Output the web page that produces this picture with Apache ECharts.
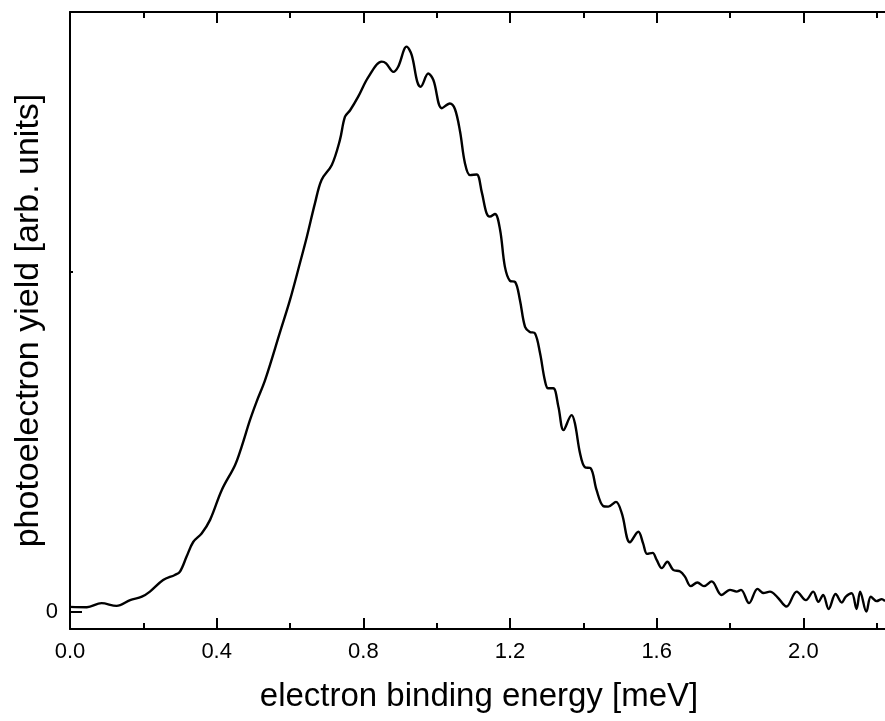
<!DOCTYPE html>
<html>
<head>
<meta charset="utf-8">
<script src="https://cdn.jsdelivr.net/npm/echarts@6/dist/echarts.min.js"></script>
<style>
  html, body { margin: 0; padding: 0; background: #fff; }
  #chart { width: 885px; height: 721px; }
</style>
</head>
<body>
<div id="chart"></div>
<script>
// electron binding energy [meV]
var energy = [
  0.000, 0.046, 0.086, 0.127, 0.164, 0.196, 0.218, 0.254, 0.286, 0.300,
  0.318, 0.336, 0.359, 0.382, 0.414, 0.450, 0.468, 0.491, 0.509, 0.532,
  0.573, 0.600, 0.627, 0.646, 0.668, 0.686, 0.714, 0.736, 0.750, 0.764,
  0.786, 0.814, 0.850, 0.862, 0.882, 0.895, 0.918, 0.932, 0.947, 0.956,
  0.977, 0.991, 1.014, 1.036, 1.050, 1.064, 1.077, 1.091, 1.109, 1.123,
  1.136, 1.145, 1.159, 1.173, 1.186, 1.200, 1.214, 1.227, 1.241, 1.254,
  1.268, 1.282, 1.295, 1.304, 1.318, 1.332, 1.346, 1.368, 1.377, 1.391,
  1.404, 1.420, 1.436, 1.454, 1.468, 1.489, 1.505, 1.527, 1.550, 1.563,
  1.574, 1.589, 1.600, 1.614, 1.629, 1.645, 1.664, 1.677, 1.693, 1.711,
  1.729, 1.750, 1.777, 1.800, 1.818, 1.830, 1.852, 1.875, 1.891, 1.909,
  1.929, 1.954, 1.982, 2.007, 2.027, 2.041, 2.054, 2.069, 2.088, 2.105,
  2.116, 2.132, 2.145, 2.155, 2.172, 2.184, 2.200, 2.214, 2.223
];
// photoelectron yield [arb. units]
var yieldVals = [
  0.015, 0.014, 0.026, 0.018, 0.035, 0.045, 0.060, 0.094, 0.109, 0.119,
  0.163, 0.206, 0.231, 0.271, 0.359, 0.432, 0.486, 0.565, 0.619, 0.682,
  0.824, 0.918, 1.026, 1.104, 1.202, 1.271, 1.315, 1.388, 1.457, 1.476,
  1.516, 1.574, 1.619, 1.614, 1.589, 1.604, 1.663, 1.638, 1.560, 1.545,
  1.584, 1.565, 1.482, 1.496, 1.479, 1.412, 1.321, 1.285, 1.287, 1.235,
  1.173, 1.163, 1.171, 1.124, 1.016, 0.974, 0.971, 0.918, 0.839, 0.824,
  0.820, 0.761, 0.682, 0.658, 0.658, 0.604, 0.535, 0.579, 0.555, 0.467,
  0.426, 0.423, 0.359, 0.312, 0.310, 0.324, 0.290, 0.205, 0.236, 0.202,
  0.171, 0.174, 0.153, 0.129, 0.148, 0.124, 0.119, 0.104, 0.076, 0.087,
  0.076, 0.090, 0.050, 0.065, 0.060, 0.065, 0.026, 0.068, 0.056, 0.060,
  0.044, 0.016, 0.060, 0.035, 0.060, 0.030, 0.050, 0.009, 0.053, 0.028,
  0.045, 0.055, 0.009, 0.060, 0.001, 0.045, 0.032, 0.038, 0.032
];
var xTickLabels = ['0.0', '0.4', '0.8', '1.2', '1.6', '2.0'];
var yTickLabels = ['0'];

var seriesData = energy.map(function (e, i) { return [e, yieldVals[i]]; });

var FONT = '"Liberation Sans", Arial, Helvetica, sans-serif';
var axisLineStyle = { color: '#000', width: 2 };

var chart = echarts.init(document.getElementById('chart'), null, { renderer: 'canvas' });
chart.setOption({
  animation: false,
  backgroundColor: '#fff',
  grid: { left: 70, right: -65, top: 12, bottom: 92, containLabel: false, outerBoundsMode: 'none' },
  xAxis: [
    {
      type: 'value', position: 'bottom', min: 0, max: 2.4, interval: 0.4,
      name: 'electron binding energy [meV]', nameLocation: 'middle', nameGap: 51,
      nameMoveOverlap: false,
      nameTextStyle: { fontFamily: FONT, fontSize: 33, color: '#000', padding: [0, 62, 0, 0] },
      axisLine: { show: true, onZero: false, lineStyle: axisLineStyle },
      axisTick: { show: true, inside: true, length: 11, lineStyle: axisLineStyle },
      minorTick: { show: true, splitNumber: 2, length: 6, lineStyle: { color: '#000', width: 2 } },
      axisLabel: {
        show: true, margin: 12, fontFamily: FONT, fontSize: 22, color: '#000',
        showMaxLabel: false,
        formatter: function (v) {
          var s = v.toFixed(1);
          return xTickLabels.indexOf(s) >= 0 ? s : '';
        }
      },
      splitLine: { show: false }
    },
    {
      type: 'value', position: 'top', min: 0, max: 2.4, interval: 0.4,
      axisLine: { show: true, onZero: false, lineStyle: axisLineStyle },
      axisTick: { show: true, inside: true, length: 11, lineStyle: axisLineStyle },
      minorTick: { show: true, splitNumber: 2, length: 6, lineStyle: { color: '#000', width: 2 } },
      axisLabel: { show: false },
      splitLine: { show: false }
    }
  ],
  yAxis: [
    {
      type: 'value', position: 'left', min: -0.05, max: 1.765,
      name: 'photoelectron yield [arb. units]', nameLocation: 'middle', nameGap: 24,
      nameMoveOverlap: false,
      nameTextStyle: { fontFamily: FONT, fontSize: 34, color: '#000' },
      axisLine: { show: true, onZero: false, lineStyle: axisLineStyle },
      axisTick: { show: true, inside: true, length: 12, customValues: [0], lineStyle: axisLineStyle },
      axisLabel: {
        show: true, margin: 12, fontFamily: FONT, fontSize: 22, color: '#000',
        customValues: [0],
        formatter: function (v) { return yTickLabels[0]; }
      },
      splitLine: { show: false }
    },
    {
      type: 'value', position: 'left', min: -0.05, max: 1.765,
      axisLine: { show: false },
      axisTick: { show: true, inside: true, length: 3, customValues: [1], lineStyle: axisLineStyle },
      axisLabel: { show: false },
      splitLine: { show: false }
    }
  ],
  series: [
    {
      type: 'line', xAxisIndex: 0, yAxisIndex: 0,
      data: seriesData, showSymbol: false, symbol: 'none',
      smooth: 0.35,
      lineStyle: { color: '#000', width: 2.4 }
    }
  ]
});
</script>
</body>
</html>
